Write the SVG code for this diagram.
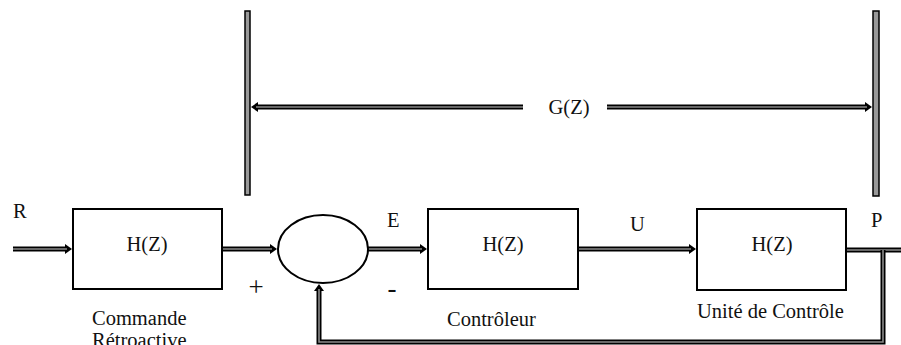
<svg xmlns="http://www.w3.org/2000/svg" width="901" height="345" viewBox="0 0 901 345">
<style>
  text { font-family: 'Liberation Serif', 'Times New Roman', serif; font-size: 20.5px; fill: #111; }
  .mid { text-anchor: middle; }
  .sign { font-size: 27px; }
  .box { fill: #fff; stroke: #000; stroke-width: 2; }
  .bar { fill: #999; stroke: #000; stroke-width: 1.5; }
  .outer { fill: none; stroke: #000; stroke-width: 5; }
  .inner { fill: none; stroke: #8a8a8a; stroke-width: 1.6; }
</style>
<defs>
  <marker id="ah" markerUnits="userSpaceOnUse" markerWidth="10" markerHeight="12" refX="2" refY="5" orient="auto">
    <path d="M0,0 L7,5 L0,10 z" fill="#000"/>
  </marker>
</defs>
<rect width="901" height="345" fill="#fff"/>

<g id="bar-left"><rect class="bar" x="245" y="11" width="5" height="184"/></g>
<g id="bar-right"><rect class="bar" x="873" y="11" width="6" height="185"/></g>

<g id="connectors">
  <path class="outer" d="M13,249 H67" marker-end="url(#ah)"/>
  <path class="inner" d="M13,249 H67"/>
  <path class="outer" d="M222,249 H272" marker-end="url(#ah)"/>
  <path class="inner" d="M222,249 H272"/>
  <path class="outer" d="M368,249 H422" marker-end="url(#ah)"/>
  <path class="inner" d="M368,249 H422"/>
  <path class="outer" d="M578,249 H691" marker-end="url(#ah)"/>
  <path class="inner" d="M578,249 H691"/>
  <path class="outer" d="M846,250 H901"/>
  <path class="inner" d="M846,250 H901"/>
  <path class="outer" d="M883,250 V342 H319 V289" marker-end="url(#ah)"/>
  <path class="inner" d="M883,250 V342 H319 V289"/>
  <path class="outer" d="M523,107 H256" marker-end="url(#ah)"/>
  <path class="inner" d="M523,107 H256"/>
  <path class="outer" d="M607,107 H867" marker-end="url(#ah)"/>
  <path class="inner" d="M607,107 H867"/>
</g>

<g id="block-commande">
  <rect class="box" x="73" y="209" width="149" height="80"/>
  <text class="mid" x="147" y="251">H(Z)</text>
  <text x="92" y="325">Commande</text>
  <text x="92" y="347">Rétroactive</text>
</g>
<g id="sum">
  <ellipse cx="323" cy="249" rx="45" ry="34" fill="#fff" stroke="#000" stroke-width="2"/>
</g>
<g id="block-controleur">
  <rect class="box" x="428" y="209" width="150" height="80"/>
  <text class="mid" x="503" y="251">H(Z)</text>
  <text x="447" y="326">Contrôleur</text>
</g>
<g id="block-unite">
  <rect class="box" x="697" y="209" width="149" height="81"/>
  <text class="mid" x="772" y="251">H(Z)</text>
  <text x="697" y="318">Unité de Contrôle</text>
</g>

<g id="labels">
  <text x="13" y="218">R</text>
  <text x="387" y="227">E</text>
  <text x="630" y="231">U</text>
  <text x="871" y="227">P</text>
  <text class="mid sign" x="256" y="296">+</text>
  <text class="mid sign" x="392" y="297">-</text>
  <text class="mid" x="569" y="114">G(Z)</text>
</g>
</svg>
